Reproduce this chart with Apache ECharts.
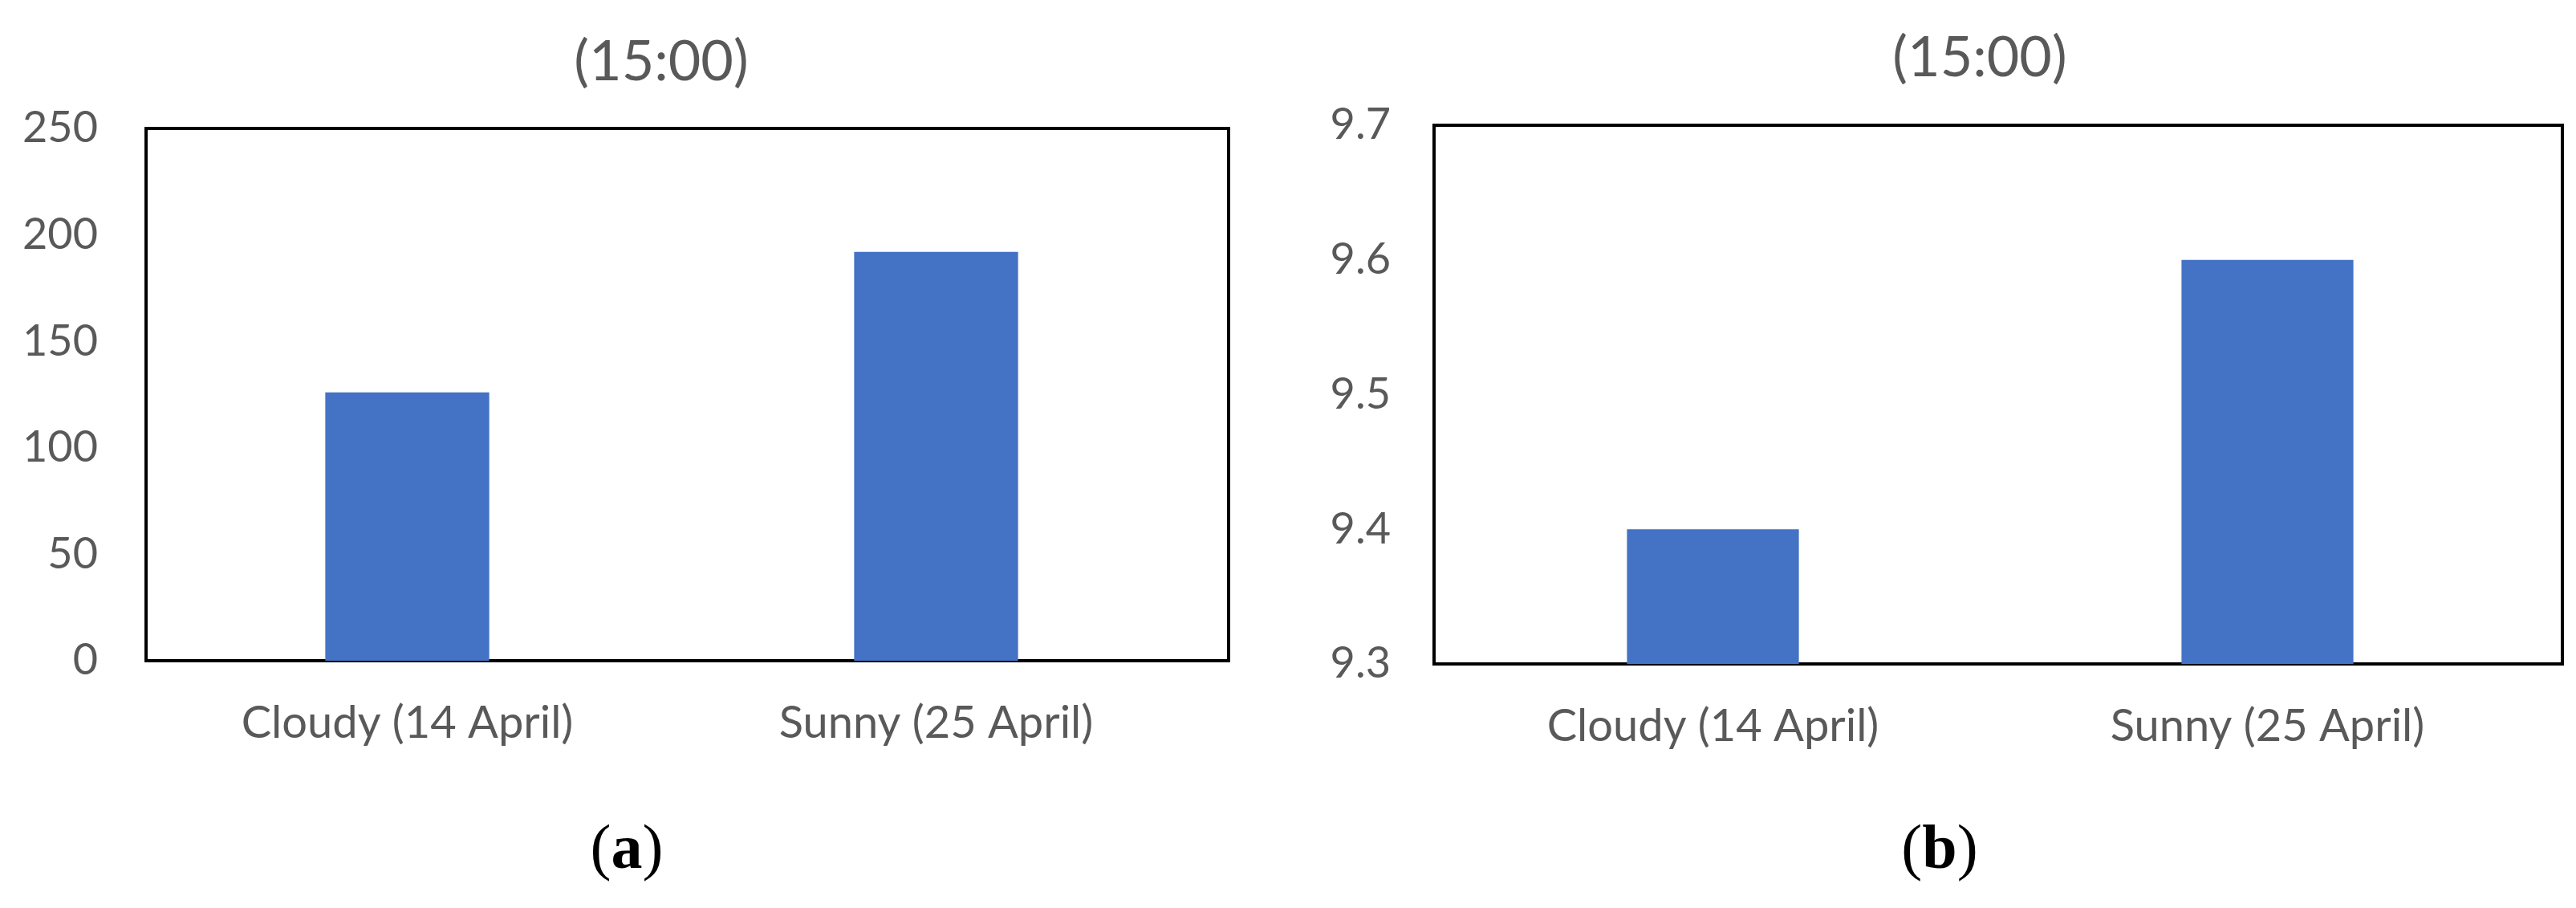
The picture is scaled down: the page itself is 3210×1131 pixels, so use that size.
<!DOCTYPE html>
<html>
<head>
<meta charset="utf-8">
<script src="https://cdn.jsdelivr.net/npm/echarts@6/dist/echarts.min.js"></script>
<style>
  html, body { margin: 0; padding: 0; background: #fff; }
  #chart { width: 3210px; height: 1131px; }
</style>
</head>
<body>
<div id="chart"></div>
<script>
// data
var categories = ['Cloudy (14 April)', 'Sunny (25 April)'];
var valuesA = [126, 192];
var valuesB = [9.4, 9.6];
var ticksA = [0, 50, 100, 150, 200, 250];
var ticksB = [9.3, 9.4, 9.5, 9.6, 9.7];
var panelTitles = ['(15:00)', '(15:00)'];
var panelTags = ['a', 'b'];

var labelFont = 'Lato';
var grey = '#595959';
var barColor = '#4472C4';

var chart = echarts.init(document.getElementById('chart'));

function xAxisFor(idx) {
    return {
        type: 'category',
        gridIndex: idx,
        data: categories,
        axisLine: { show: false },
        axisTick: { show: false },
        axisLabel: { color: grey, fontFamily: labelFont, fontSize: 56, margin: 50 },
        splitLine: { show: false }
    };
}

function yAxisFor(idx, ticks, decimals) {
    return {
        type: 'value',
        gridIndex: idx,
        min: ticks[0],
        max: ticks[ticks.length - 1],
        interval: ticks[1] - ticks[0],
        axisLine: { show: false },
        axisTick: { show: false },
        splitLine: { show: false },
        axisLabel: {
            color: grey, fontFamily: labelFont, fontSize: 54, margin: 56,
            formatter: function (v) { return v.toFixed(decimals); }
        }
    };
}

// empty axes for the frame grids (box only)
function hiddenAxis(idx, type) {
    return { type: type, gridIndex: idx, show: false };
}

function tag(letter, x) {
    return {
        type: 'text', x: x, y: 1061,
        style: {
            rich: {
                p: { font: '78px "Liberation Serif"', fill: '#000' },
                b: { font: 'bold 78px "Liberation Serif"', fill: '#000' }
            },
            text: '{p|(}{b|' + letter + '}{p|)}',
            align: 'center', verticalAlign: 'middle'
        }
    };
}

var option = {
    backgroundColor: '#fff',
    animation: false,
    grid: [
        // data areas
        { left: 178, top: 160, width: 1318, height: 663, show: false },
        { left: 1789, top: 156, width: 1382, height: 671, show: false },
        // frames
        { left: 182, top: 160, width: 1349, height: 663, show: true, borderColor: '#000', borderWidth: 4 },
        { left: 1787, top: 156, width: 1406, height: 671, show: true, borderColor: '#000', borderWidth: 4 }
    ],
    xAxis: [xAxisFor(0), xAxisFor(1), hiddenAxis(2, 'value'), hiddenAxis(3, 'value')],
    yAxis: [yAxisFor(0, ticksA, 0), yAxisFor(1, ticksB, 1), hiddenAxis(2, 'value'), hiddenAxis(3, 'value')],
    series: [
        { type: 'bar', xAxisIndex: 0, yAxisIndex: 0, data: valuesA, barWidth: '31%', itemStyle: { color: barColor }, z: 1 },
        { type: 'bar', xAxisIndex: 1, yAxisIndex: 1, data: valuesB, barWidth: '31%', itemStyle: { color: barColor }, z: 1 }
    ],
    graphic: [
        { type: 'text', x: 824, y: 77, style: { text: panelTitles[0], fill: grey, font: '70px Lato', align: 'center', verticalAlign: 'middle' } },
        { type: 'text', x: 2467, y: 72, style: { text: panelTitles[1], fill: grey, font: '70px Lato', align: 'center', verticalAlign: 'middle' } },
        tag(panelTags[0], 781),
        tag(panelTags[1], 2417)
    ]
};

chart.setOption(option);
</script>
</body>
</html>
